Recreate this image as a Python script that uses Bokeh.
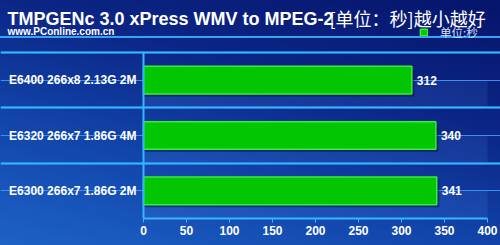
from bokeh.plotting import figure
from bokeh.models import (ColumnDataSource, Label, FixedTicker, SingleIntervalTicker,
                          Legend, LegendItem, Grid)
from bokeh.core.properties import value
from bokeh.embed import file_html
from bokeh.resources import INLINE

# ---- data ----
categories = ["E6400 266x8 2.13G 2M", "E6320 266x7 1.86G 4M", "E6300 266x7 1.86G 2M"]
seconds = [312, 340, 341]
x_ticks = [0, 50, 100, 150, 200, 250, 300, 350, 400]
title_en = "TMPGENc 3.0 xPress WMV to MPEG-2"
title_cn = "[单位：秒]越小越好"
subtitle = "www.PConline.com.cn"
legend_text = "单位:秒"

n = len(categories)
ypos = [n - i for i in range(n)]          # top category highest
bounds_y = [k + 0.5 for k in range(n + 1)]

# ---- layout geometry (canvas pixels) ----
W, H = 500, 245
PL, PR, PT, PB = 143, 487, 52, 218   # plot-area box
xs = (PR - PL) / (x_ticks[-1] - x_ticks[0])
ys = (PB - PT) / n
x_start = x_ticks[0] - PL / xs
x_end = x_ticks[-1] + (W - PR) / xs
y_start = 0.5
y_end = n + 0.5 + PT / ys

src = ColumnDataSource(dict(y=ypos, v=seconds, cat=categories,
                            lbl=[str(s) for s in seconds],
                            stripe_y=[y - 0.25 for y in ypos],
                            shadow_y=[y - 2.5 / ys for y in ypos],
                            shadow_r=[s + 2.5 / xs for s in seconds],
                            zero=[0] * n, full=[x_ticks[-1]] * n))

p = figure(width=W, height=H, output_backend="svg", toolbar_location=None,
           x_range=(x_start, x_end), y_range=(y_start, y_end),
           min_border_left=0, min_border_right=0, min_border_top=0,
           min_border_bottom=H - PB)
p.styles = {"background": "linear-gradient(to bottom, rgba(0,0,0,0) 36px, #3aa2f2 36px, #3aa2f2 38px, rgba(0,0,0,0) 38px), "
                          "linear-gradient(195deg, #06146a 0%, #0b2686 35%, #1348ae 70%, #1d62c6 100%)"}
p.border_fill_color = None
p.background_fill_color = None
p.outline_line_color = None
p.yaxis.visible = False

# light stripes in lower half of each band
p.hbar(y="stripe_y", left="zero", right="full", height=0.5, source=src,
       fill_color="#5a9cff", fill_alpha=0.13, line_color=None)

# bar shadows and bars
p.hbar(y="shadow_y", left="zero", right="shadow_r", height=0.5, source=src,
       fill_color="#000830", fill_alpha=0.45, line_color=None)
bars = p.hbar(y="y", left="zero", right="v", height=0.5, source=src,
              fill_color="#03c603", line_color="#3cec3c", line_width=1.5)

# y axis line
p.segment(x0=[0], y0=[0.5], x1=[0], y1=[n + 0.5], line_color="#36b6ff", line_width=2)

p.text(x="v", y="y", text="lbl", source=src, x_offset=5, text_baseline="middle",
       text_color="white", text_font=value("Liberation Sans"), text_font_style="bold",
       text_font_size="12px")
p.text(x="zero", y="y", text="cat", source=src, x_offset=-7, text_align="right",
       text_baseline="middle", text_color="white", text_font=value("Liberation Sans"),
       text_font_style="bold", text_font_size="12px")

# x axis
xa = p.xaxis[0]
xa.ticker = SingleIntervalTicker(interval=50, num_minor_ticks=2)
xa.bounds = (x_ticks[0], x_ticks[-1])
xa.axis_line_color = "#36b6ff"
xa.axis_line_width = 2
xa.major_tick_line_color = "#36b6ff"
xa.major_tick_out = 4
xa.major_tick_in = 0
xa.minor_tick_out = 0
xa.minor_tick_in = 0
xa.major_label_text_color = "white"
xa.major_label_text_font = "Liberation Sans"
xa.major_label_text_font_style = "bold"
xa.major_label_text_font_size = "12px"
xa.major_label_standoff = 3

p.xgrid.bounds = (0.5, n + 0.5)
p.xgrid.grid_line_color = "#5a9af0"
p.xgrid.grid_line_dash = "1 3"
p.xgrid.grid_line_alpha = 0.8
p.xgrid.minor_grid_line_color = "#5a9af0"
p.xgrid.minor_grid_line_dash = "1 3"
p.xgrid.minor_grid_line_alpha = 0.8

p.ygrid.ticker = FixedTicker(ticks=bounds_y, minor_ticks=ypos)
p.ygrid.bounds = (x_ticks[0], x_ticks[-1])
p.ygrid.grid_line_color = "#2f8ef0"
p.ygrid.grid_line_width = 1.5
p.ygrid.minor_grid_line_color = "#3a90ee"
p.ygrid.minor_grid_line_width = 1

# small outward ticks at band boundaries on the y axis
p.add_layout(Grid(dimension=1, ticker=FixedTicker(ticks=bounds_y),
                  bounds=(x_ticks[0] - 6 / xs, x_ticks[0]),
                  grid_line_color="#36b6ff", grid_line_width=2))

# titles (screen units relative to frame bottom-left; frame = canvas above x axis)
def lab(x, y, text, **kw):
    p.add_layout(Label(x=x, y=PB - y, x_units="screen", y_units="screen", text=text,
                       text_baseline="alphabetic", **kw))

lab(7, 18.5, title_en, text_color="white", text_font="Liberation Sans",
    text_font_style="bold", text_font_size="18px")
lab(329, 17.5, title_cn, text_color="white", text_font="Noto Sans CJK SC", text_font_size="18px")
lab(7, 31, subtitle, text_color="white", text_font="Liberation Sans",
    text_font_style="bold", text_font_size="10px")

legend = Legend(items=[LegendItem(label=legend_text, renderers=[bars])],
                location=(419, PB - 40), padding=0, margin=0, spacing=0,
                glyph_width=9, glyph_height=8, label_height=10, label_standoff=12,
                label_text_color="#d8e0ff", label_text_font="Noto Sans CJK SC",
                label_text_font_size="11.5px", background_fill_alpha=0,
                border_line_color=None)
p.add_layout(legend)

open("out.html", "w").write(file_html(p, INLINE))
